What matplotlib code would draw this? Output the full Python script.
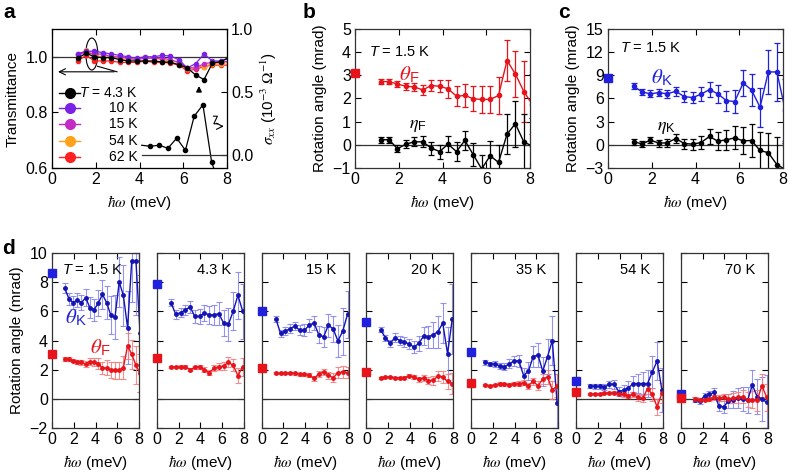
import numpy as np
import matplotlib
matplotlib.use('Agg')
import matplotlib.pyplot as plt
from matplotlib.patches import Ellipse

plt.rcParams['font.family'] = ['Liberation Sans', 'DejaVu Sans']
plt.rcParams['font.size'] = 11
plt.rcParams['mathtext.fontset'] = 'custom'
plt.rcParams['mathtext.rm'] = 'Liberation Sans'
plt.rcParams['mathtext.it'] = 'Liberation Sans:italic'
plt.rcParams['mathtext.bf'] = 'Liberation Sans:bold'
plt.rcParams['mathtext.sf'] = 'Liberation Sans'

# ---- panel a: transmittance and sigma_xx ----
e_a = [1.17, 1.56, 1.94, 2.33, 2.71, 3.10, 3.48, 3.87, 4.25, 4.64,
       5.02, 5.41, 5.79, 6.18, 6.56, 6.95, 7.33, 7.72, 8.10]
tr_4K = [0.995, 1.013, 1.0, 0.997, 0.997, 0.99, 0.985, 0.985, 0.985, 0.985,
         0.982, 0.98, 0.972, 0.96, 0.935, 0.918, 0.977, 0.983, 0.998]
tr_10K = [1.01, 1.02, 1.02, 1.015, 1.01, 1.005, 1.0, 0.995, 1.0, 1.0,
          1.005, 1.003, 0.99, 0.96, 0.975, 1.01, 0.985, 0.985, 0.995]
tr_15K = [1.01, 1.015, 1.01, 1.01, 1.0, 1.0, 0.995, 0.99, 0.995, 0.995,
          0.995, 0.99, 0.98, 0.96, 0.96, 0.975, 0.98, 0.98, 0.985]
tr_54K = [1.005, 1.025, 1.005, 1.0, 1.0, 0.995, 0.99, 0.99, 1.0, 0.995,
          0.99, 0.985, 0.98, 0.955, 0.965, 0.965, 0.975, 0.975, 0.98]
tr_62K = [0.985, 1.005, 0.985, 0.985, 0.985, 0.98, 0.98, 0.98, 0.985, 0.98,
          0.98, 0.978, 0.97, 0.95, 0.955, 0.965, 0.97, 0.97, 0.97]
tr_labels = ['$T$ = 4.3 K', '10 K', '15 K', '54 K', '62 K']
tr_colors = ['#000000', '#7b22e6', '#c42bc4', '#ffa21a', '#ff2121']

e_sig = [4.1, 4.48, 4.9, 5.3, 5.7, 6.1, 6.5, 6.9, 7.3, 7.7]
sig_xx = [0.08, 0.072, 0.08, 0.056, 0.136, 0.04, 0.31, 0.40, -0.056, -0.25]

# ---- panels b, c (T = 1.5 K) ----
thF_15 = [2.73, 2.73, 2.62, 2.53, 2.50, 2.37, 2.56, 2.53, 2.42, 2.10,
          2.13, 1.99, 1.96, 1.96, 2.13, 3.64, 3.06, 2.30, 1.75]
thF_15_err = [0.12, 0.12, 0.12, 0.15, 0.18, 0.2, 0.25, 0.27, 0.4, 0.43,
              0.5, 0.54, 0.57, 0.6, 0.8, 0.9, 1.0, 1.3, 1.3]
etaF_15 = [0.22, 0.22, -0.17, 0.03, 0.13, 0.13, -0.14, -0.29, 0.03, -0.29,
           0.19, -0.43, -1.04, -0.47, -0.76, 0.46, 0.91, 0.12, -0.05]
etaF_15_err = [0.13, 0.13, 0.15, 0.18, 0.2, 0.23, 0.28, 0.3, 0.35, 0.4,
               0.4, 0.5, 0.6, 0.65, 0.75, 0.85, 1.0, 1.2, 1.2]
thK_15 = [7.6, 6.85, 6.6, 6.77, 6.6, 6.94, 6.25, 6.12, 6.55, 7.16,
          6.6, 5.73, 5.6, 8.0, 7.11, 4.87, 9.44, 9.44, 4.5]
thK_15_err = [0.35, 0.4, 0.45, 0.5, 0.5, 0.6, 0.7, 0.75, 0.9, 1.0,
              1.15, 1.3, 1.5, 1.7, 2.1, 2.5, 2.8, 3.7, 4.0]
etaK_15 = [0.39, 0.13, 0.6, 0.22, 0.26, 0.82, 0.17, 0.09, 0.3, 1.08,
           0.47, 0.65, 0.9, 0.52, 0.56, -0.73, -1.03, -2.55, -3.2]
etaK_15_err = [0.35, 0.35, 0.4, 0.45, 0.5, 0.6, 0.65, 0.7, 0.85, 1.0,
               1.15, 1.3, 1.5, 1.75, 2.1, 2.4, 2.6, 3.5, 3.5]
thF0_15 = 3.1
thK0_15 = 8.65

# ---- panel d: other temperatures ----
d_temps = ['$T$ = 1.5 K', '4.3 K', '15 K', '20 K', '35 K', '54 K', '70 K']
e_d = [1.3, 1.74, 2.18, 2.62, 3.06, 3.5, 3.94, 4.38, 4.82, 5.26,
       5.7, 6.14, 6.58, 7.02, 7.46, 7.9]
thK_4K = [6.6, 5.8, 5.9, 6.1, 6.3, 5.65, 5.65, 5.9, 5.75, 5.75, 5.85, 5.2, 5.1, 6.0, 7.1, 6.0]
thK_4K_err = [0.25, 0.3, 0.3, 0.35, 0.4, 0.45, 0.5, 0.55, 0.6, 0.7, 0.8, 0.9, 1.1, 1.3, 1.6, 1.9]
thF_4K = [2.2, 2.2, 2.2, 2.2, 2.0, 2.15, 2.2, 2.0, 1.8, 2.1, 2.2, 2.25, 2.5, 2.3, 1.6, 2.2]
thF_4K_err = [0.08, 0.08, 0.1, 0.1, 0.12, 0.12, 0.15, 0.15, 0.18, 0.2, 0.25, 0.3, 0.35, 0.4, 0.5, 0.6]
thK_15K = [5.5, 4.5, 4.65, 4.8, 5.0, 4.7, 4.7, 5.05, 5.2, 4.4, 4.25, 5.05, 4.8, 3.97, 4.64, 5.8]
thK_15K_err = [0.2, 0.25, 0.25, 0.3, 0.3, 0.35, 0.4, 0.45, 0.5, 0.6, 0.7, 0.8, 0.9, 1.1, 1.6, 1.6]
thF_15K = [1.78, 1.74, 1.74, 1.8, 1.74, 1.67, 1.67, 1.62, 1.4, 1.7, 1.85, 1.62, 1.44, 1.8, 1.85, 1.8]
thF_15K_err = [0.05, 0.05, 0.06, 0.07, 0.08, 0.1, 0.12, 0.12, 0.15, 0.18, 0.2, 0.25, 0.3, 0.35, 0.4, 0.4]
thK_20K = [4.75, 4.2, 3.8, 4.2, 4.0, 3.9, 3.75, 3.55, 3.8, 4.3, 4.25, 4.4, 4.6, 5.2, 3.1, 5.5]
thK_20K_err = [0.2, 0.2, 0.25, 0.3, 0.3, 0.35, 0.35, 0.4, 0.5, 0.6, 0.75, 0.9, 1.1, 1.4, 1.8, 2.4]
thF_20K = [1.44, 1.48, 1.5, 1.45, 1.44, 1.44, 1.6, 1.5, 1.33, 1.44, 1.25, 1.28, 1.56, 1.5, 1.2, 1.05]
thF_20K_err = [0.06, 0.06, 0.07, 0.08, 0.08, 0.1, 0.12, 0.14, 0.16, 0.2, 0.25, 0.3, 0.35, 0.4, 0.5, 0.7]
thK_35K = [2.5, 2.4, 2.4, 2.25, 2.2, 2.4, 2.6, 2.6, 1.6, 1.9, 2.9, 3.0, 1.9, 2.9, 4.0, -0.3]
thK_35K_err = [0.15, 0.15, 0.2, 0.2, 0.25, 0.3, 0.35, 0.4, 0.5, 0.6, 0.7, 0.8, 1.0, 1.2, 1.7, 2.0]
thF_35K = [0.95, 0.9, 0.95, 1.05, 1.0, 0.97, 1.05, 1.05, 1.1, 0.9, 1.2, 0.9, 1.35, 1.5, 0.6, 0.9]
thF_35K_err = [0.06, 0.06, 0.07, 0.08, 0.1, 0.1, 0.12, 0.14, 0.16, 0.2, 0.25, 0.3, 0.35, 0.45, 0.6, 0.8]
thK_54K = [0.9, 0.85, 0.85, 0.8, 1.0, 1.0, 0.5, 0.6, 0.75, 1.05, 1.05, 1.05, 1.05, 1.85, 2.6, 0.6]
thK_54K_err = [0.15, 0.15, 0.2, 0.2, 0.25, 0.3, 0.3, 0.35, 0.45, 0.55, 0.65, 0.8, 0.9, 1.1, 1.3, 1.5]
thF_54K = [0.35, 0.32, 0.32, 0.4, 0.4, 0.42, 0.35, 0.3, 0.2, 0.3, 0.1, 0.05, 0.7, 0.3, -0.55, 0.4]
thF_54K_err = [0.06, 0.06, 0.07, 0.08, 0.1, 0.1, 0.12, 0.14, 0.16, 0.2, 0.25, 0.3, 0.35, 0.45, 0.55, 0.7]
thK_70K = [-0.05, -0.15, 0.2, 0.3, 0.45, -0.5, -0.55, -0.15, -0.05, 0.05, 0.0, -0.1, 0.95, 0.15, 0.0, -0.25]
thK_70K_err = [0.15, 0.2, 0.2, 0.25, 0.3, 0.35, 0.4, 0.5, 0.6, 0.7, 0.8, 0.9, 1.0, 1.2, 1.5, 1.9]
thF_70K = [0.0, -0.05, -0.05, 0.0, 0.1, 0.05, 0.1, 0.0, 0.05, 0.1, 0.15, -0.05, -0.05, -0.1, 0.9, 0.1]
thF_70K_err = [0.1, 0.1, 0.12, 0.15, 0.18, 0.2, 0.25, 0.3, 0.35, 0.4, 0.45, 0.5, 0.6, 0.7, 0.8, 0.9]
thK0_d = [8.65, 7.9, 6.0, 5.25, 3.2, 1.25, 0.35]
thF0_d = [3.1, 2.8, 2.1, 1.85, 1.1, 0.45, 0.08]

RED = '#e8141c'
BLUE = '#2020dd'
DBLUE = '#1414b4'
LBLUE = '#8080f0'
LRED = '#f47a7a'
GREY = '#333333'
HW = r'$\hbar\omega$ (meV)'

W, H = 788, 473


def rect(l, t, r, b):
    return [l / W, 1 - b / H, (r - l) / W, (b - t) / H]


def style(ax, right=True):
    ax.tick_params(direction='in', top=True, right=right, length=4, width=0.8,
                   labelsize=11.5, pad=3)
    for s in ax.spines.values():
        s.set_color(GREY)
        s.set_linewidth(0.9)


fig = plt.figure(figsize=(7.88, 4.73), dpi=100)

# ================= a =================
axa = fig.add_axes(rect(52, 29, 227, 168))
ax2 = axa.twinx()
style(axa, right=False)
ax2.tick_params(direction='in', length=4, width=0.8, labelsize=11.5, pad=3)
axa.axhline(1.0, color=GREY, lw=0.9)
series = [tr_4K, tr_10K, tr_15K, tr_54K, tr_62K]
for y, c in list(zip(series, tr_colors))[::-1]:
    axa.plot(e_a, y, '-o', color=c, ms=3, lw=0.9)
axa.set_xlim(0, 8)
axa.set_ylim(0.6, 1.1)
axa.set_yticks([0.6, 0.8, 1.0])
axa.set_xticks([0, 2, 4, 6, 8])
axa.set_ylabel('Transmittance', fontsize=11)
axa.set_xlabel(HW, fontsize=11, math_fontfamily='stix')

# legend drawn by hand (in data units), text right aligned as in the original
leg_y = [0.870, 0.815, 0.758, 0.697, 0.639]
for yy, lab, c in zip(leg_y, tr_labels, tr_colors):
    axa.plot([0.3, 0.8, 1.3], [yy, yy, yy], '-', color=c, lw=1,
             marker='o', ms=7, markevery=[1])
    axa.text(3.92, yy, lab, ha='right', va='center', fontsize=10)

ax2.plot(e_sig, sig_xx, '-o', color='k', ms=3, lw=0.9, markevery=list(range(1, len(e_sig))))
ax2.axhline(0, xmin=0.515, color=GREY, lw=0.9)
ax2.set_ylim(-0.1, 1.0)
ax2.set_yticks([0.0, 0.5, 1.0])
ax2.set_yticklabels(['0.0', '0.5', '1.0'])
ax2.set_ylabel(r'$\sigma_{xx}$ (10$^{-3}$ $\Omega^{-1}$)', fontsize=11, math_fontfamily='stix')

axa.add_patch(Ellipse((1.82, 1.01), 0.55, 0.115, fill=False, lw=0.8, color='k'))
axa.plot([2.08, 2.97], [0.966, 0.946], color='k', lw=0.8)
axa.annotate('', xy=(0.15, 0.946), xytext=(2.97, 0.946),
             arrowprops=dict(arrowstyle='->', color='k', lw=0.8))
axa.annotate('', xy=(6.72, 0.905), xytext=(6.72, 0.866),
             arrowprops=dict(arrowstyle='-|>', color='k', lw=1.0, mutation_scale=8))
ax2.plot([7.38, 7.56, 7.4, 7.58], [0.31, 0.31, 0.25, 0.25], color='k', lw=0.8)
ax2.annotate('', xy=(7.98, 0.23), xytext=(7.6, 0.23),
             arrowprops=dict(arrowstyle='->', color='k', lw=0.8))

# ================= b =================
axb = fig.add_axes(rect(355, 29, 530, 168))
style(axb)
axb.axhline(0, color=GREY, lw=0.9)
axb.errorbar(e_a, thF_15, yerr=thF_15_err, fmt='-o', color=RED, ms=3, lw=1,
             elinewidth=0.9, capsize=2.5, capthick=0.9)
axb.errorbar(e_a, etaF_15, yerr=etaF_15_err, fmt='-o', color='k', ms=3, lw=1,
             elinewidth=0.9, capsize=2.5, capthick=0.9)
axb.plot([0], [thF0_15], 's', color=RED, ms=6, clip_on=False, zorder=5)
axb.set_xlim(0, 8)
axb.set_ylim(-1, 5)
axb.set_xticks([0, 2, 4, 6, 8])
axb.set_yticks(range(-1, 6))
axb.set_yticklabels(['\u22121'] + [str(v) for v in range(0, 6)])
axb.set_ylabel('Rotation angle (mrad)', fontsize=11)
axb.set_xlabel(HW, fontsize=11, math_fontfamily='stix')
axb.text(0.65, 4.0, '$T$ = 1.5 K', fontsize=10.5, va='center')
axb.text(2.0, 3.05, r'$\theta_\mathregular{F}$', color=RED, fontsize=15,
         va='center', math_fontfamily='stix')
axb.text(2.45, 0.85, r'$\eta_\mathregular{F}$', color='k', fontsize=13,
         va='center', math_fontfamily='stix')

# ================= c =================
axc = fig.add_axes(rect(608, 29, 783, 168))
style(axc)
axc.axhline(0, color=GREY, lw=0.9)
axc.errorbar(e_a, thK_15, yerr=thK_15_err, fmt='-o', color=BLUE, ms=3, lw=1,
             elinewidth=0.9, capsize=2.5, capthick=0.9)
axc.errorbar(e_a, etaK_15, yerr=etaK_15_err, fmt='-o', color='k', ms=3, lw=1,
             elinewidth=0.9, capsize=2.5, capthick=0.9)
axc.plot([0], [thK0_15], 's', color=BLUE, ms=6, clip_on=False, zorder=5)
axc.set_xlim(0, 8)
axc.set_ylim(-3, 15)
axc.set_xticks([0, 2, 4, 6, 8])
axc.set_yticks(range(-3, 16, 3))
axc.set_yticklabels(['\u22123'] + [str(v) for v in range(0, 16, 3)])
axc.set_ylabel('Rotation angle (mrad)', fontsize=11)
axc.set_xlabel(HW, fontsize=11, math_fontfamily='stix')
axc.text(0.55, 12.5, '$T$ = 1.5 K', fontsize=10.5, va='center')
axc.text(1.95, 8.7, r'$\theta_\mathregular{K}$', color=BLUE, fontsize=15,
         va='center', math_fontfamily='stix')
axc.text(2.25, 2.3, r'$\eta_\mathregular{K}$', color='k', fontsize=13,
         va='center', math_fontfamily='stix')

# ================= d =================
d_e = [e_a] + [e_d] * 6
d_thK = [thK_15, thK_4K, thK_15K, thK_20K, thK_35K, thK_54K, thK_70K]
d_thK_err = [thK_15_err, thK_4K_err, thK_15K_err, thK_20K_err, thK_35K_err, thK_54K_err, thK_70K_err]
d_thF = [thF_15, thF_4K, thF_15K, thF_20K, thF_35K, thF_54K, thF_70K]
d_thF_err = [thF_15_err, thF_4K_err, thF_15K_err, thF_20K_err, thF_35K_err, thF_54K_err, thF_70K_err]

for i in range(7):
    left = 52 + 104.8 * i
    ax = fig.add_axes(rect(left, 253, left + 87, 428))
    style(ax)
    ax.axhline(0, color=GREY, lw=0.9)
    ax.errorbar(d_e[i], d_thK[i], yerr=d_thK_err[i], fmt='none', ecolor=LBLUE,
                elinewidth=0.8, capsize=2, capthick=0.8, alpha=0.85)
    ax.errorbar(d_e[i], d_thF[i], yerr=d_thF_err[i], fmt='none', ecolor=LRED,
                elinewidth=0.8, capsize=2, capthick=0.8, alpha=0.85)
    ax.plot(d_e[i], d_thK[i], '-o', color=DBLUE, ms=2.5, lw=1)
    ax.plot(d_e[i], d_thF[i], '-o', color=RED, ms=2.5, lw=1)
    ax.plot([0], [thK0_d[i]], 's', color=BLUE, ms=6, clip_on=False, zorder=5)
    ax.plot([0], [thF0_d[i]], 's', color=RED, ms=6, clip_on=False, zorder=5)
    ax.set_xlim(0, 8)
    ax.set_ylim(-2, 10)
    ax.set_xticks([0, 2, 4, 6, 8])
    ax.set_yticks(range(-2, 11, 2))
    ax.set_xlabel(HW, fontsize=11, math_fontfamily='stix')
    if i == 0:
        ax.set_yticklabels(['\u22122'] + [str(v) for v in range(0, 11, 2)])
        ax.set_ylabel('Rotation angle (mrad)', fontsize=11)
        ax.text(0.9, 8.85, d_temps[i], fontsize=10.5, va='center')
        ax.text(1.15, 5.6, r'$\theta_\mathregular{K}$', color=BLUE, fontsize=15,
                va='center', math_fontfamily='stix')
        ax.text(3.5, 3.5, r'$\theta_\mathregular{F}$', color=RED, fontsize=15,
                va='center', math_fontfamily='stix')
    else:
        ax.set_yticklabels([])
        ax.text(6.85, 8.85, d_temps[i], fontsize=10.5, va='center', ha='right')

fig.text(3 / W, 1 - 13 / H, 'a', fontsize=15, fontweight='bold', va='center')
fig.text(303 / W, 1 - 13 / H, 'b', fontsize=15, fontweight='bold', va='center')
fig.text(558 / W, 1 - 13 / H, 'c', fontsize=15, fontweight='bold', va='center')
fig.text(2 / W, 1 - 249 / H, 'd', fontsize=15, fontweight='bold', va='center')

fig.savefig('out.png', dpi=100)
